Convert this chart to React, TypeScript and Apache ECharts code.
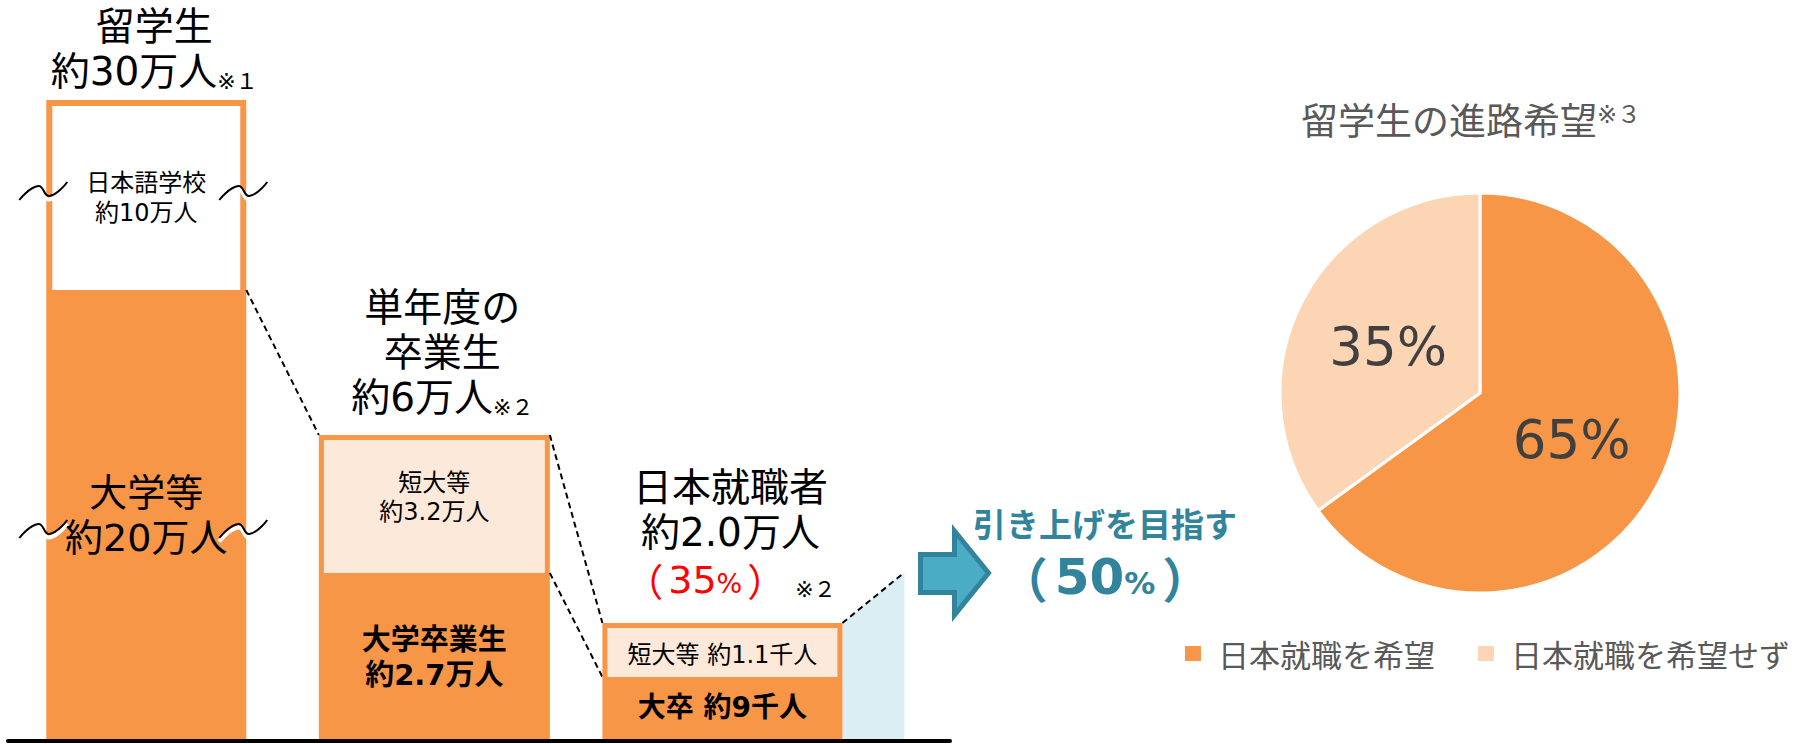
import React, { useEffect, useRef } from 'react';
import * as echarts from 'echarts';

const FONT = "'DejaVu Sans', 'Noto Sans CJK JP', sans-serif";
const CJK = "'Noto Sans CJK JP', sans-serif";

// ---------------- data ----------------
const barCategories = ['留学生', '単年度の卒業生', '日本就職者'];
// drawn (schematic) segment heights: the original vertical axis is broken, not to scale
const lowerHeights = [45.1, 16.8, 6.4];
const upperHeights = [19.0, 13.8, 5.4];
const breakMarks = [21.2, 55.0];
const currentRate = 35;
const targetRate = 50;
// [fromBar, fromLevel, toBar, toLevel]
const connectors: [number, string, number, string][] = [
  [0, 'lower', 1, 'top'],
  [1, 'top', 2, 'top'],
  [1, 'lower', 2, 'lower'],
];

const topLabels = [
  '{b|留学生}\n{b|約30万人}{n|※１}',
  '{b|単年度の}\n{b|卒業生}\n{b|約6万人}{n|※２}',
  '{b|日本就職者}\n{b|約2.0万人}\n{rq|（}{g| }{rd|' + currentRate + '}{rp|%}{g| }{rq|）}{sp| }{n|※２}',
];
const upperLabels = ['日本語学校\n約10万人', '短大等\n約3.2万人', '短大等 約1.1千人'];
const lowerLabels = ['大学等\n約20万人', '大学卒業生\n約2.7万人', '大卒 約9千人'];

const targetLabel = '引き上げを目指す';

const pieTitle = '留学生の進路希望';
const pieNote = '※３';
const pieNames = ['日本就職を希望', '日本就職を希望せず'];
const pieValues = [65, 35];

// ---------------- styles ----------------
const ORANGE = '#F79646';
const LIGHT = '#FDE9D9';
const PIE_COLORS = [ORANGE, '#FCD5B5'];
const TEAL = '#31849B';
const barWidthsPx = [200, 231, 240];
const borderInsets = [6, 5, 5];
const upperFills = ['#FFFFFF', LIGHT, LIGHT];
const targetWidthPx = 62;
const topLabelGaps = [6, 15, 18.5];
const topLabelDx = 8;
const upperLabelStyles = [
  { fontSize: 24, lineHeight: 30, fontWeight: 'normal', dy: 0 },
  { fontSize: 24, lineHeight: 29, fontWeight: 'normal', dy: -9 },
  { fontSize: 24, lineHeight: 30, fontWeight: 'normal', dy: 2 },
];
const lowerLabelStyles = [
  { fontSize: 38, lineHeight: 45, fontWeight: 'normal', dy: 0 },
  { fontSize: 29, lineHeight: 35, fontWeight: 'bold', dy: 0 },
  { fontSize: 28, lineHeight: 35, fontWeight: 'bold', dy: -2 },
];
const wave = [[-27, 9], [-8, -5], [3, 5], [21, -9]];

const topRich = {
  b: { fontSize: 39, lineHeight: 45, fontFamily: FONT, fill: '#000' },
  n: { fontSize: 22, lineHeight: 40, fontFamily: FONT, fill: '#000', padding: [20, 0, 0, 0] },
  rq: { fontSize: 38, lineHeight: 50, fontFamily: CJK, fill: '#FF0000' },
  rd: { fontSize: 38, lineHeight: 50, fontFamily: FONT, fill: '#FF0000' },
  rp: { fontSize: 27, lineHeight: 40, fontFamily: FONT, fill: '#FF0000', padding: [8, 0, 0, 0] },
  g: { fontSize: 10, lineHeight: 40, fontFamily: FONT, fill: '#FF0000', width: 5 },
  sp: { fontSize: 22, lineHeight: 40, fontFamily: FONT, fill: '#000', width: 10 },
};

function renderBar(params: any, api: any) {
  const i = params.dataIndex;
  const xv = api.value(0);
  const lo = api.value(1);
  const up = api.value(2);
  const w = barWidthsPx[i];
  const ins = borderInsets[i];
  const base = api.coord([xv, 0]);
  const cx = base[0];
  const y0 = base[1];
  const yLo = api.coord([xv, lo])[1];
  const yTop = api.coord([xv, lo + up])[1];
  const left = cx - w / 2;
  const right = cx + w / 2;
  const ch: any[] = [];
  const dash = { stroke: '#000', lineWidth: 2, lineDash: [6, 4], fill: null };

  if (i === lowerHeights.length - 1) {
    const yT = api.coord([xv, ((lo + up) * targetRate) / currentRate])[1];
    const xr = right + targetWidthPx;
    ch.push({
      type: 'polygon',
      shape: { points: [[right, yTop], [xr, yT], [xr, y0], [right, y0]] },
      style: { fill: '#DAEEF3' },
    });
    ch.push({ type: 'line', shape: { x1: right, y1: yTop, x2: xr, y2: yT }, style: dash });
  }

  ch.push({ type: 'rect', shape: { x: left, y: yTop, width: w, height: y0 - yTop }, style: { fill: ORANGE } });
  ch.push({
    type: 'rect',
    shape: { x: left + ins, y: yTop + ins, width: w - 2 * ins, height: yLo - yTop - ins },
    style: { fill: upperFills[i] },
  });

  connectors
    .filter((c) => c[0] === i)
    .forEach(([, la, b, lb]) => {
      const yA = api.coord([xv, la === 'top' ? lo + up : lo])[1];
      const xb = api.coord([b, 0])[0] - barWidthsPx[b] / 2;
      const vb = lb === 'top' ? lowerHeights[b] + upperHeights[b] : lowerHeights[b];
      const yB = api.coord([b, vb])[1];
      ch.push({ type: 'line', shape: { x1: right, y1: yA, x2: xb, y2: yB }, style: dash });
    });

  if (i === 0) {
    breakMarks.forEach((v) => {
      const yb = api.coord([xv, v])[1];
      [left, right].forEach((ex) => {
        const pts = wave.map(([dx, dy]) => [ex + dx, yb + dy]);
        ch.push({
          type: 'polyline',
          shape: { points: pts.map(([x, y]) => [x, y + 3.5]), smooth: 0.5 },
          style: { stroke: '#FFFFFF', lineWidth: 4, fill: null },
        });
        ch.push({
          type: 'polyline',
          shape: { points: pts, smooth: 0.5 },
          style: { stroke: '#000', lineWidth: 2, fill: null },
        });
      });
    });
  }

  const us = upperLabelStyles[i];
  ch.push({
    type: 'text',
    x: cx,
    y: (yTop + ins + yLo) / 2 + us.dy,
    style: {
      text: upperLabels[i],
      fontSize: us.fontSize,
      lineHeight: us.lineHeight,
      fontWeight: us.fontWeight,
      fontFamily: FONT,
      fill: '#000',
      align: 'center',
      verticalAlign: 'middle',
    },
  });
  const ls = lowerLabelStyles[i];
  ch.push({
    type: 'text',
    x: cx,
    y: (yLo + y0) / 2 + ls.dy,
    style: {
      text: lowerLabels[i],
      fontSize: ls.fontSize,
      lineHeight: ls.lineHeight,
      fontWeight: ls.fontWeight,
      fontFamily: FONT,
      fill: '#000',
      align: 'center',
      verticalAlign: 'middle',
    },
  });
  ch.push({
    type: 'text',
    x: cx + topLabelDx,
    y: yTop - topLabelGaps[i],
    style: {
      text: topLabels[i],
      rich: topRich,
      fontSize: 39,
      fontFamily: FONT,
      fill: '#000',
      align: 'center',
      verticalAlign: 'bottom',
    },
  });

  return { type: 'group', children: ch };
}

const option: any = {
  animation: false,
  backgroundColor: '#FFFFFF',
  title: {
    text: '{a|' + pieTitle + '}{b|' + pieNote + '}',
    left: 1301,
    top: 97,
    padding: 0,
    textStyle: {
      fontWeight: 'normal',
      rich: {
        a: { fontSize: 37, lineHeight: 44, fontWeight: 'normal', color: '#595959', fontFamily: CJK },
        b: { fontSize: 24, lineHeight: 44, fontWeight: 'normal', color: '#595959', fontFamily: FONT, padding: [0, 0, 8, 0] },
      },
    },
  },
  legend: {
    data: pieNames,
    left: 1183,
    top: 638,
    padding: 0,
    icon: 'rect',
    itemWidth: 18,
    itemHeight: 17,
    itemGap: 41,
    selectedMode: false,
    textStyle: { fontSize: 31, lineHeight: 31, color: '#595959', fontFamily: CJK, padding: [0, 0, 0, 11] },
  },
  grid: { left: 8, right: 848, top: 101, bottom: 3 },
  xAxis: {
    type: 'value',
    min: -0.48,
    max: 2.79,
    z: 10,
    axisLine: { show: true, onZero: true, lineStyle: { color: '#000', width: 4 } },
    axisTick: { show: false },
    axisLabel: { show: false },
    splitLine: { show: false },
  },
  yAxis: { type: 'value', min: 0, max: 64, show: false, splitLine: { show: false } },
  series: [
    {
      type: 'custom',
      name: 'bars',
      coordinateSystem: 'cartesian2d',
      renderItem: renderBar,
      clip: false,
      silent: true,
      encode: { x: 0, y: [1, 2] },
      data: barCategories.map((c, i) => [i, lowerHeights[i], upperHeights[i], c]),
    },
    {
      type: 'pie',
      center: [1480, 393],
      radius: 200,
      startAngle: 90,
      clockwise: true,
      silent: true,
      avoidLabelOverlap: false,
      label: {
        show: true,
        position: 'inside',
        formatter: '{c}%',
        fontSize: 53,
        color: '#404040',
        fontFamily: FONT,
        textBorderWidth: 0,
      },
      labelLine: { show: false },
      emphasis: { disabled: true },
      itemStyle: { borderColor: '#FFFFFF', borderWidth: 3 },
      data: pieNames.map((n, i) => ({ name: n, value: pieValues[i], itemStyle: { color: PIE_COLORS[i] } })),
    },
  ],
  graphic: [
    {
      type: 'polygon',
      shape: {
        points: [
          [920.5, 554.5],
          [954.5, 554.5],
          [954.5, 531],
          [988.5, 573],
          [954.5, 615],
          [954.5, 592.5],
          [920.5, 592.5],
        ],
      },
      style: { fill: '#4BACC6', stroke: TEAL, lineWidth: 5 },
    },
    {
      type: 'text',
      x: 1105,
      y: 523,
      style: {
        text: targetLabel,
        fontSize: 33,
        fontWeight: 'bold',
        fontFamily: CJK,
        fill: TEAL,
        align: 'center',
        verticalAlign: 'middle',
      },
    },
    {
      type: 'text',
      x: 1105,
      y: 577,
      style: {
        text: '{p|（}{g| }{d|' + targetRate + '}{pc|%}{g| }{p|）}',
        fontSize: 46,
        fontFamily: FONT,
        fill: TEAL,
        align: 'center',
        verticalAlign: 'middle',
        rich: {
          p: { fontSize: 48, fontWeight: 'bold', fontFamily: CJK, fill: TEAL, lineHeight: 56 },
          d: { fontSize: 50, fontWeight: 'bold', fontFamily: FONT, fill: TEAL, lineHeight: 56 },
          pc: { fontSize: 31, fontWeight: 'bold', fontFamily: FONT, fill: TEAL, lineHeight: 50, padding: [12, 0, 0, 0] },
          g: { fontSize: 10, fontFamily: FONT, fill: TEAL, lineHeight: 40, width: 7 },
        },
      },
    },
  ],
};

export default function App() {
  const ref = useRef<HTMLDivElement>(null);
  useEffect(() => {
    document.body.style.margin = '0';
    document.body.style.overflow = 'hidden';
    const chart = echarts.init(ref.current as HTMLDivElement, null, { renderer: 'svg' });
    chart.setOption(option);
    return () => chart.dispose();
  }, []);
  return <div ref={ref} style={{ width: 1798, height: 744 }} />;
}
